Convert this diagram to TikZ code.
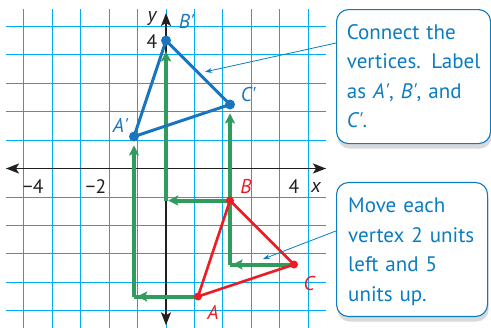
\documentclass[tikz,border=0pt]{standalone}
\usepackage{fontspec}
\setmainfont{PT Sans}
\usetikzlibrary{arrows.meta,shadows,calc}
\definecolor{gridc}{RGB}{0,174,239}
\definecolor{triblue}{RGB}{27,117,190}
\definecolor{txtblue}{RGB}{10,125,194}
\definecolor{tred}{RGB}{237,28,36}
\definecolor{tgreen}{RGB}{47,155,92}
\definecolor{axisc}{RGB}{35,31,32}
\newcommand{\pr}{\textquotesingle}
\begin{document}
\begin{tikzpicture}[x=32pt,y=32pt,
  gridline/.style={gridc,line width=0.9pt},
  axis/.style={axisc,line width=1.6pt,{Stealth[length=13pt,width=10pt,inset=3pt]}-{Stealth[length=13pt,width=10pt,inset=3pt]}},
  garrow/.style={tgreen,line width=4pt,-{Stealth[length=10pt,width=10pt,inset=2pt]}},
  gline/.style={tgreen,line width=4pt},
  bluetri/.style={triblue,line width=3pt,line join=round},
  redtri/.style={tred,line width=2.6pt,line join=round},
  bdot/.style={circle,fill=triblue,inner sep=0pt,minimum size=10pt},
  rdot/.style={circle,fill=tred,inner sep=0pt,minimum size=8pt},
  lbl/.style={inner sep=0pt,font=\fontsize{20}{22}\selectfont\itshape},
  num/.style={inner sep=0pt,axisc,font=\fontsize{19.5}{22}\selectfont},
  callout/.style={draw=txtblue,line width=1.1pt,fill=white,rounded corners=12pt,
    drop shadow={shadow xshift=1pt,shadow yshift=-5pt,opacity=0.15,fill=black},
    inner sep=0pt,anchor=north west},
  boxtext/.style={inner sep=0pt,anchor=north west,align=left,text width=145pt,txtblue,
    font=\fontsize{21}{29.5}\selectfont},
  leader/.style={txtblue,line width=0.8pt,-{Stealth[length=7pt,width=5pt]}}
]
\useasboundingbox (-5.1875,-4.984) rectangle (10.156,5.266);
\fill[white] (-5.1875,-4.984) rectangle (10.156,5.266);
% grid
\draw[gridline] (-5,-4.984) grid (5,5);
% axes
\coordinate (xl) at (-5,0); \coordinate (xr) at (5,0);
\coordinate (yt) at (0,4.86); \coordinate (yb) at (0,-4.9);
\draw[axis] (xl) -- (xr);
\draw[axis] (yb) -- (yt);
% points
\coordinate (A) at (1,-4); \coordinate (B) at (2,-1); \coordinate (C) at (4,-3);
\coordinate (A1) at (-1,1); \coordinate (B1) at (0,4); \coordinate (C1) at (2,2);
\coordinate (Ak) at (-1,-4); \coordinate (Bk) at (0,-1); \coordinate (Ck) at (2,-3);
\coordinate (Ah) at (-0.9,-4); \coordinate (Bh) at (0.07,-1); \coordinate (Ch) at (2.08,-3);
\coordinate (Av) at (-1,0.72); \coordinate (Bv) at (0,3.66); \coordinate (Cv) at (2,1.72);
% green translation arrows
\draw[gline] (Ak) -- ($(Ak)+(0.3,0)$);
\draw[garrow] (A) -- (Ah);
\draw[garrow] (Ak) -- (Av);
\draw[garrow] (B) -- (Bh);
\draw[garrow] (Bk) -- (Bv);
\draw[gline] (Ck) -- ($(Ck)+(0.3,0)$);
\draw[garrow] (C) -- (Ch);
\draw[garrow] (Ck) -- (Cv);
% triangles
\draw[redtri] (A) -- (B) -- (C) -- cycle;
\node[rdot] (dA) at (A) {}; \node[rdot] (dB) at (B) {}; \node[rdot] (dC) at (C) {};
\draw[bluetri] (A1) -- (B1) -- (C1) -- cycle;
\node[bdot] (dA1) at (A1) {}; \node[bdot] (dB1) at (B1) {}; \node[bdot] (dC1) at (C1) {};
% labels
\node[lbl,axisc] (ly) at (-0.44,4.7) {y};
\node[num] (l4y) at (-0.44,3.98) {4};
\node[lbl,triblue] (lB1) at (0.64,4.58) {B\pr};
\node[lbl,triblue] (lA1) at (-1.42,1.36) {A\pr};
\node[lbl,triblue] (lC1) at (2.57,2.3) {C\pr};
\node[lbl,tred] (lB) at (2.5,-0.55) {B};
\node[lbl,tred] (lC) at (4.47,-3.6) {C};
\node[lbl,tred] (lA) at (1.47,-4.5) {A};
\node[num] (lm4) at (-4.15,-0.55) {−4};
\node[num] (lm2) at (-2.19,-0.55) {−2};
\node[num] (l4x) at (4.0,-0.55) {4};
\node[lbl,axisc] (lx) at (4.69,-0.6) {x};
% callouts
\node[callout,minimum width=154pt,minimum height=134pt] (box1) at (5.3125,4.984) {};
\node[boxtext] (t1) at ($(box1.north west)+(10.7pt,-15pt)$)
  {Connect the\\vertices. Label\\as \textit{A\pr}, \textit{B\pr}, and\\\textit{C\pr}.};
\node[callout,minimum width=151pt,minimum height=134pt] (box2) at (5.3125,-0.42) {};
\node[boxtext] (t2) at ($(box2.north west)+(12pt,-16pt)$)
  {Move each\\vertex 2 units\\left and 5\\units up.};
\coordinate (s1) at ($(box1.north west)+(0,-34pt)$);
\coordinate (p1) at (1.22,3.02);
\coordinate (s2) at ($(box2.north west)+(0,-49pt)$);
\coordinate (p2) at (3.03,-2.83);
\draw[leader] (s1) -- (p1);
\draw[leader] (s2) -- (p2);
\end{tikzpicture}
\end{document}
